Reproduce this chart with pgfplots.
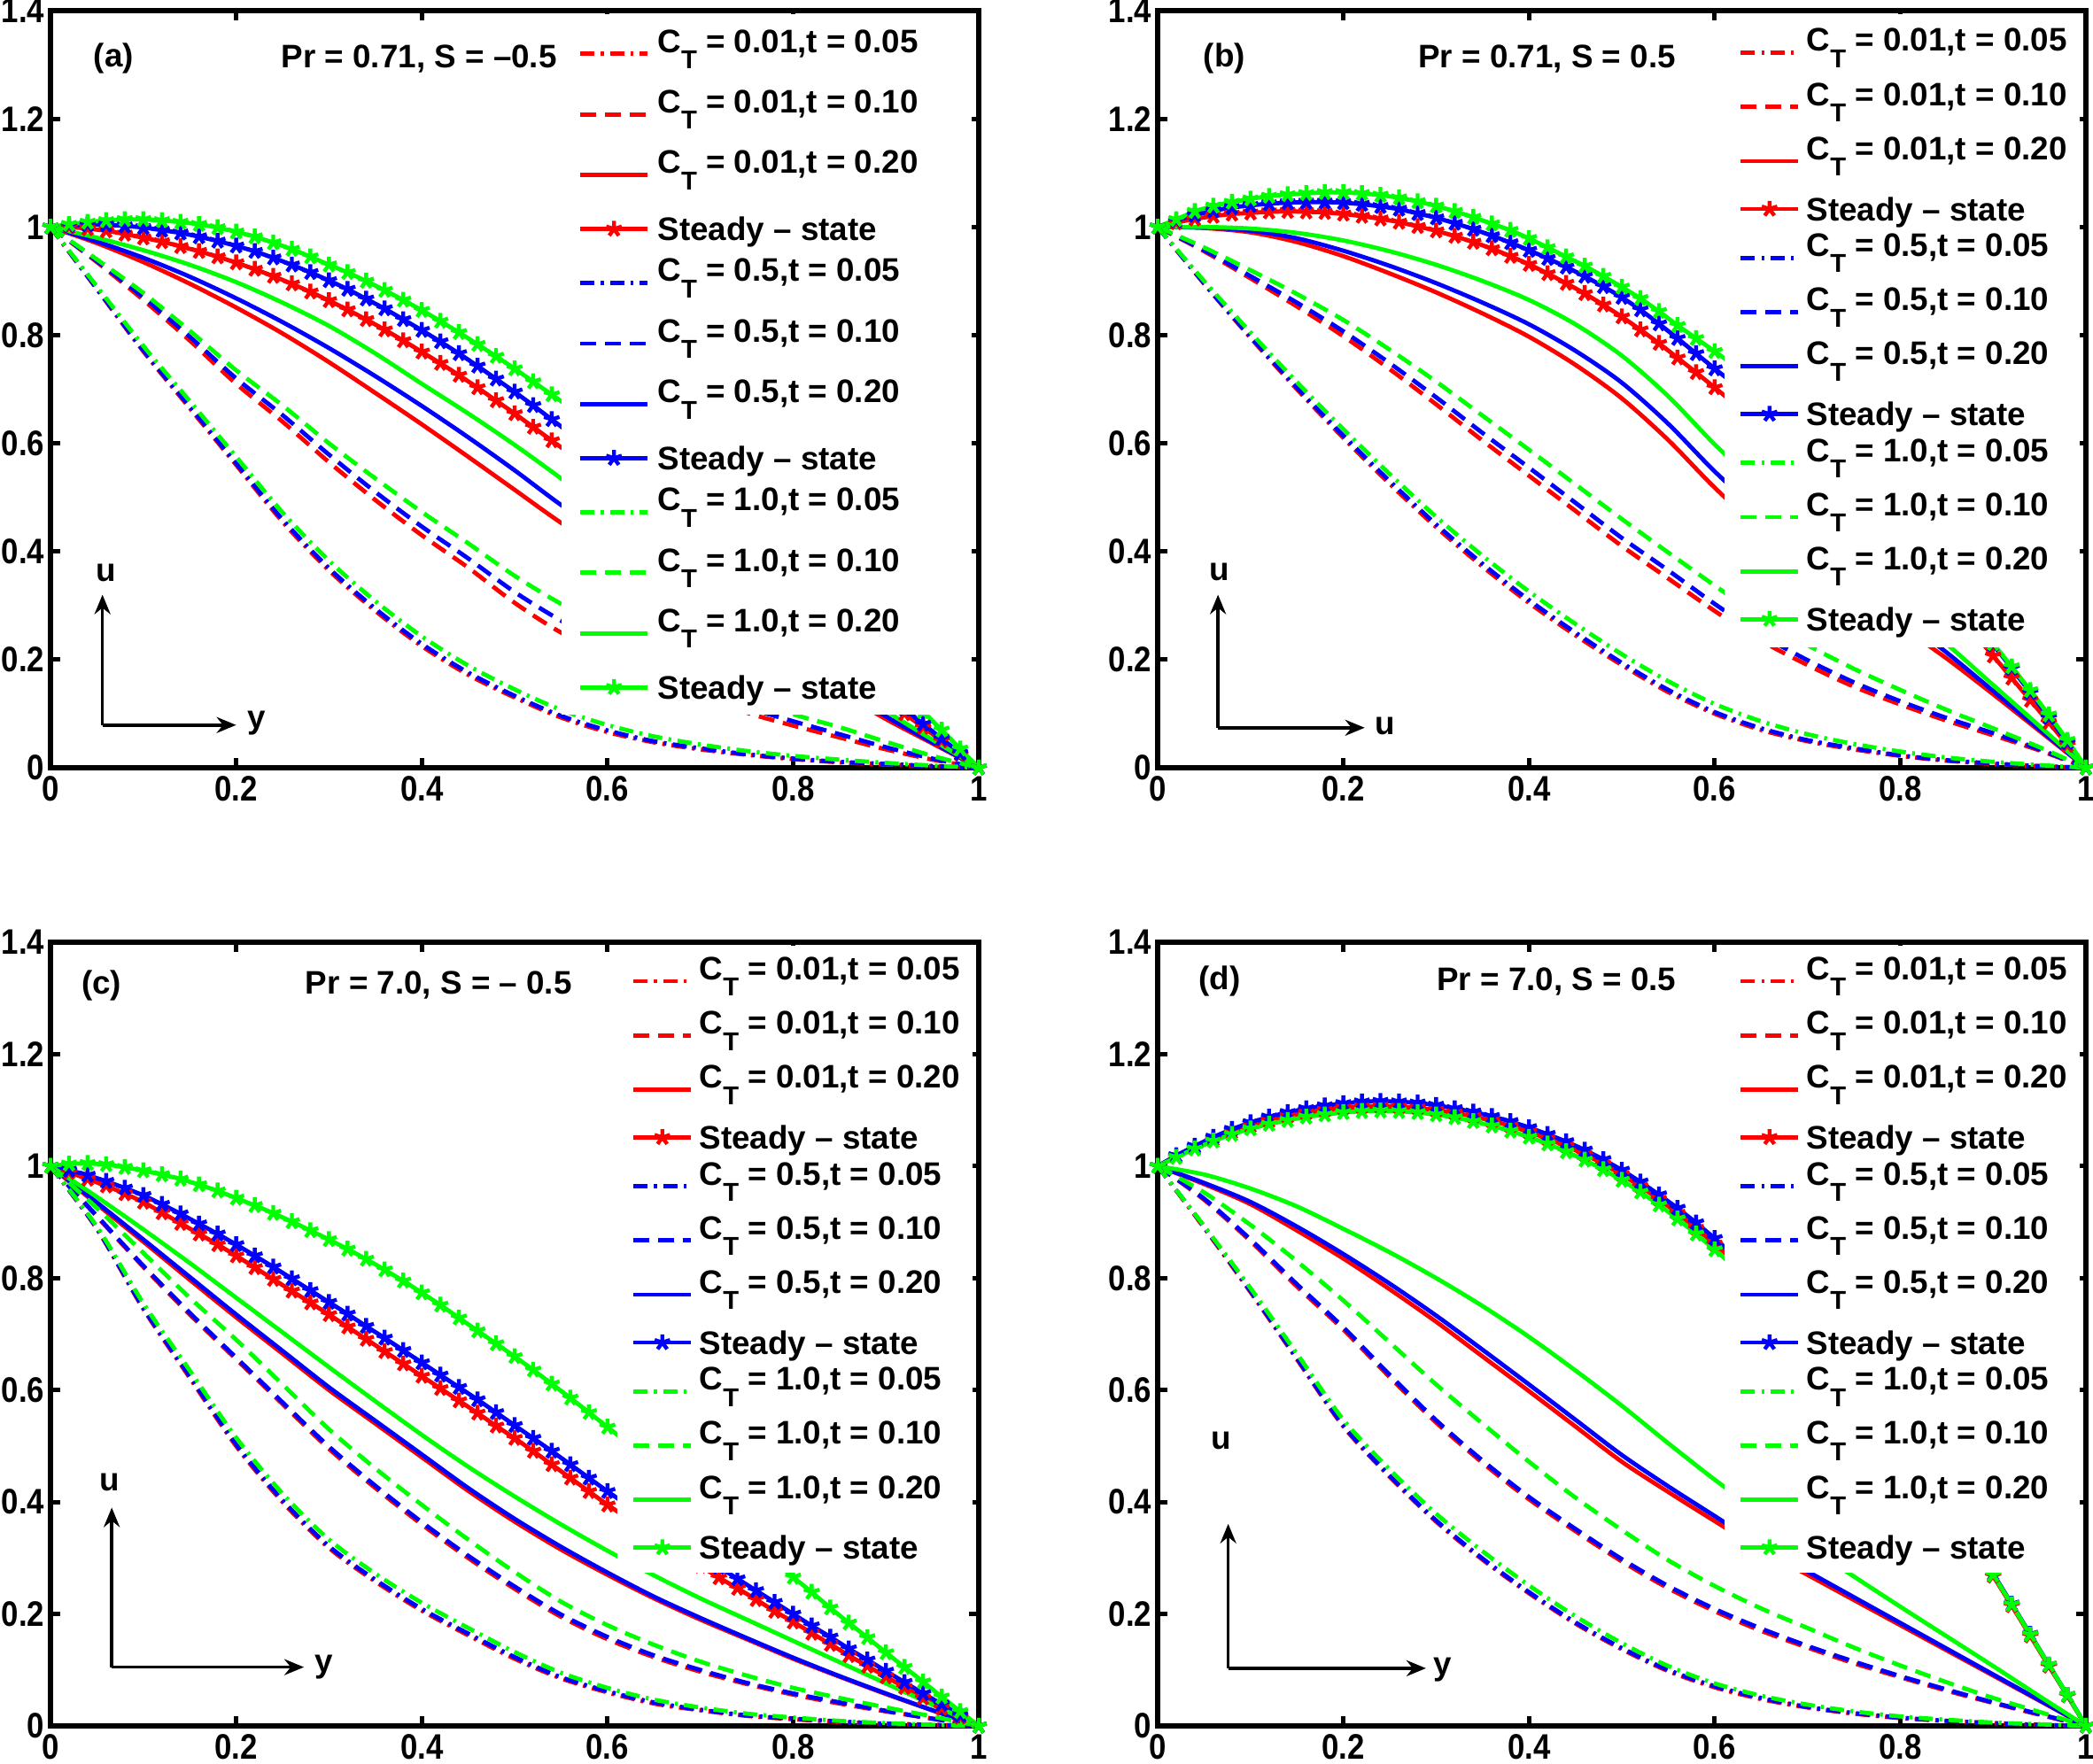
\documentclass[border=0pt]{standalone}
\usepackage{fontspec}
\setmainfont{Liberation Sans}
\newfontfamily\mytickfont[FakeStretch=0.87]{Liberation Sans}
\usepackage{pgfplots}
\usepackage{pgfplotstable}
\pgfplotsset{compat=1.18}
\usetikzlibrary{arrows.meta}
\definecolor{mred}{RGB}{255,0,0}
\definecolor{mblue}{RGB}{0,0,255}
\definecolor{mgreen}{RGB}{0,255,0}

% ---------------- panel (a) ----------------
\pgfplotstableread{
x r b g
0.00 1.000 1.000 1.000
0.02 1.000 1.003 1.005
0.04 0.997 1.004 1.009
0.06 0.993 1.004 1.012
0.08 0.987 1.002 1.014
0.10 0.980 0.999 1.014
0.12 0.973 0.994 1.012
0.14 0.964 0.989 1.009
0.16 0.955 0.982 1.005
0.18 0.945 0.974 0.999
0.20 0.934 0.965 0.991
0.22 0.922 0.955 0.982
0.24 0.909 0.943 0.971
0.26 0.895 0.930 0.959
0.28 0.880 0.916 0.945
0.30 0.864 0.901 0.930
0.32 0.847 0.885 0.916
0.34 0.829 0.867 0.900
0.36 0.810 0.849 0.883
0.38 0.790 0.829 0.865
0.40 0.769 0.809 0.846
0.42 0.748 0.788 0.826
0.44 0.726 0.766 0.805
0.46 0.703 0.743 0.783
0.48 0.679 0.719 0.761
0.50 0.655 0.695 0.738
0.52 0.630 0.670 0.714
0.54 0.605 0.644 0.690
0.56 0.580 0.618 0.666
0.58 0.555 0.591 0.641
0.60 0.529 0.564 0.615
0.62 0.503 0.537 0.588
0.64 0.477 0.509 0.561
0.66 0.451 0.481 0.533
0.68 0.424 0.453 0.505
0.70 0.397 0.424 0.476
0.72 0.370 0.396 0.447
0.74 0.343 0.367 0.418
0.76 0.315 0.338 0.388
0.78 0.288 0.308 0.358
0.80 0.260 0.279 0.328
0.82 0.233 0.250 0.297
0.84 0.206 0.222 0.266
0.86 0.179 0.193 0.235
0.88 0.153 0.165 0.203
0.90 0.126 0.137 0.171
0.92 0.100 0.109 0.138
0.94 0.075 0.081 0.104
0.96 0.050 0.054 0.070
0.98 0.025 0.027 0.035
1.00 0.000 0.000 0.000
}\SA
\pgfplotstableread{
x r05 b05 g05 r10 b10 g10 r20 b20 g20
0.00 1 1 1 1 1 1 1 1 1
0.05 0.885 0.886 0.890 0.935 0.937 0.940 0.970 0.973 0.980
0.10 0.770 0.772 0.780 0.865 0.870 0.878 0.935 0.943 0.957
0.15 0.665 0.668 0.678 0.790 0.797 0.808 0.895 0.908 0.930
0.20 0.560 0.563 0.575 0.710 0.720 0.735 0.851 0.868 0.898
0.25 0.455 0.459 0.472 0.640 0.652 0.670 0.803 0.824 0.860
0.30 0.365 0.369 0.383 0.565 0.579 0.600 0.750 0.776 0.817
0.35 0.290 0.294 0.308 0.495 0.510 0.535 0.693 0.724 0.766
0.40 0.225 0.229 0.243 0.430 0.446 0.473 0.635 0.669 0.710
0.45 0.172 0.176 0.189 0.370 0.387 0.415 0.575 0.611 0.655
0.50 0.130 0.133 0.145 0.305 0.325 0.355 0.514 0.550 0.597
0.55 0.093 0.096 0.107 0.250 0.272 0.303 0.453 0.486 0.535
0.60 0.066 0.069 0.079 0.210 0.228 0.258 0.400 0.430 0.470
0.65 0.047 0.049 0.058 0.170 0.185 0.212 0.345 0.370 0.405
0.70 0.034 0.036 0.043 0.135 0.147 0.170 0.290 0.310 0.340
0.75 0.024 0.025 0.031 0.102 0.112 0.130 0.240 0.255 0.280
0.80 0.016 0.017 0.022 0.078 0.086 0.099 0.185 0.200 0.220
0.85 0.010 0.011 0.015 0.056 0.062 0.075 0.140 0.148 0.163
0.90 0.006 0.007 0.009 0.034 0.038 0.048 0.090 0.095 0.105
0.95 0.003 0.003 0.004 0.015 0.017 0.022 0.045 0.047 0.052
1.00 0 0 0 0 0 0 0 0 0
}\TA

% ---------------- panel (b) ----------------
\pgfplotstableread{
x r b g
0.00 1.000 1.000 1.000
0.02 1.008 1.012 1.014
0.04 1.015 1.022 1.029
0.06 1.020 1.030 1.039
0.08 1.024 1.036 1.046
0.10 1.026 1.040 1.052
0.12 1.028 1.043 1.057
0.14 1.029 1.045 1.060
0.16 1.028 1.046 1.062
0.18 1.027 1.046 1.064
0.20 1.024 1.045 1.064
0.22 1.020 1.042 1.062
0.24 1.015 1.038 1.059
0.26 1.009 1.033 1.054
0.28 1.001 1.025 1.047
0.30 0.993 1.017 1.039
0.32 0.983 1.007 1.029
0.34 0.972 0.996 1.018
0.36 0.960 0.984 1.006
0.38 0.946 0.971 0.994
0.40 0.931 0.957 0.979
0.42 0.914 0.942 0.962
0.44 0.896 0.926 0.945
0.46 0.877 0.909 0.928
0.48 0.856 0.890 0.909
0.50 0.834 0.870 0.889
0.52 0.810 0.847 0.868
0.54 0.785 0.821 0.844
0.56 0.758 0.794 0.818
0.58 0.731 0.766 0.794
0.60 0.703 0.738 0.770
0.62 0.675 0.711 0.745
0.64 0.649 0.684 0.718
0.66 0.621 0.655 0.689
0.68 0.592 0.625 0.658
0.70 0.562 0.594 0.625
0.72 0.531 0.562 0.590
0.74 0.499 0.529 0.554
0.76 0.466 0.495 0.517
0.78 0.432 0.460 0.479
0.80 0.397 0.424 0.440
0.82 0.361 0.387 0.400
0.84 0.324 0.349 0.359
0.86 0.286 0.310 0.317
0.88 0.247 0.270 0.274
0.90 0.207 0.228 0.230
0.92 0.166 0.184 0.187
0.94 0.125 0.139 0.143
0.96 0.084 0.093 0.098
0.98 0.042 0.047 0.051
1.00 0.000 0.000 0.000
}\SB
\pgfplotstableread{
x r05 b05 g05 r10 b10 g10 r20 b20 g20
0.00 1 1 1 1 1 1 1 1 1
0.05 0.895 0.896 0.900 0.955 0.957 0.962 0.998 0.999 1.000
0.10 0.795 0.797 0.805 0.905 0.909 0.920 0.990 0.993 0.997
0.15 0.700 0.703 0.713 0.853 0.860 0.876 0.972 0.979 0.989
0.20 0.610 0.614 0.626 0.798 0.807 0.828 0.946 0.956 0.975
0.25 0.525 0.530 0.543 0.737 0.748 0.773 0.914 0.928 0.955
0.30 0.445 0.450 0.464 0.672 0.685 0.714 0.879 0.896 0.930
0.35 0.372 0.377 0.392 0.605 0.619 0.651 0.840 0.860 0.900
0.40 0.305 0.310 0.326 0.540 0.555 0.588 0.797 0.820 0.865
0.45 0.245 0.250 0.266 0.475 0.490 0.524 0.745 0.771 0.820
0.50 0.190 0.194 0.210 0.410 0.425 0.460 0.683 0.712 0.762
0.55 0.140 0.144 0.160 0.350 0.365 0.398 0.606 0.636 0.687
0.60 0.100 0.103 0.118 0.290 0.303 0.337 0.518 0.548 0.598
0.65 0.070 0.073 0.086 0.235 0.246 0.278 0.440 0.470 0.518
0.70 0.049 0.051 0.062 0.190 0.199 0.227 0.375 0.400 0.440
0.75 0.034 0.036 0.044 0.150 0.158 0.183 0.318 0.340 0.370
0.80 0.022 0.023 0.030 0.117 0.123 0.144 0.262 0.278 0.300
0.85 0.013 0.014 0.019 0.087 0.092 0.107 0.202 0.213 0.229
0.90 0.007 0.008 0.011 0.060 0.064 0.073 0.136 0.142 0.153
0.95 0.003 0.003 0.005 0.032 0.034 0.038 0.068 0.071 0.077
1.00 0 0 0 0 0 0 0 0 0
}\TB

% ---------------- panel (c) ----------------
\pgfplotstableread{
x r b g
0.00 1.000 1.000 1.000
0.02 0.989 0.993 1.004
0.04 0.977 0.984 1.005
0.06 0.965 0.973 1.003
0.08 0.951 0.961 0.998
0.10 0.936 0.948 0.992
0.12 0.917 0.932 0.985
0.14 0.898 0.915 0.977
0.16 0.879 0.897 0.967
0.18 0.860 0.879 0.956
0.20 0.840 0.860 0.943
0.22 0.819 0.840 0.930
0.24 0.798 0.820 0.916
0.26 0.777 0.799 0.901
0.28 0.756 0.778 0.885
0.30 0.735 0.757 0.869
0.32 0.713 0.736 0.852
0.34 0.691 0.714 0.834
0.36 0.669 0.693 0.815
0.38 0.647 0.671 0.795
0.40 0.625 0.649 0.774
0.42 0.603 0.627 0.752
0.44 0.581 0.605 0.729
0.46 0.559 0.583 0.706
0.48 0.536 0.560 0.683
0.50 0.514 0.537 0.660
0.52 0.491 0.514 0.636
0.54 0.467 0.491 0.611
0.56 0.443 0.467 0.586
0.58 0.419 0.443 0.560
0.60 0.395 0.419 0.534
0.62 0.373 0.396 0.508
0.64 0.351 0.373 0.482
0.66 0.330 0.351 0.456
0.68 0.308 0.328 0.430
0.70 0.286 0.306 0.403
0.72 0.265 0.284 0.376
0.74 0.246 0.263 0.349
0.76 0.226 0.242 0.322
0.78 0.205 0.221 0.294
0.80 0.186 0.200 0.266
0.82 0.166 0.179 0.239
0.84 0.146 0.159 0.211
0.86 0.126 0.138 0.184
0.88 0.107 0.118 0.158
0.90 0.088 0.098 0.131
0.92 0.069 0.078 0.105
0.94 0.050 0.058 0.079
0.96 0.032 0.039 0.052
0.98 0.016 0.019 0.026
1.00 0.000 0.000 0.000
}\SC
\pgfplotstableread{
x r05 b05 g05 r10 b10 g10 r20 b20 g20
0.00 1 1 1 1 1 1 1 1 1
0.05 0.888 0.889 0.892 0.910 0.911 0.925 0.932 0.935 0.945
0.10 0.745 0.747 0.755 0.820 0.822 0.845 0.865 0.869 0.887
0.15 0.622 0.625 0.635 0.735 0.738 0.765 0.797 0.802 0.827
0.20 0.500 0.503 0.515 0.655 0.658 0.690 0.730 0.735 0.765
0.25 0.400 0.403 0.415 0.575 0.578 0.610 0.665 0.670 0.703
0.30 0.318 0.321 0.333 0.495 0.499 0.530 0.600 0.605 0.641
0.35 0.258 0.261 0.272 0.425 0.429 0.460 0.540 0.545 0.580
0.40 0.206 0.209 0.220 0.360 0.364 0.395 0.480 0.485 0.520
0.45 0.162 0.165 0.175 0.300 0.304 0.333 0.420 0.425 0.463
0.50 0.120 0.123 0.132 0.245 0.249 0.275 0.365 0.370 0.410
0.55 0.085 0.087 0.095 0.195 0.199 0.222 0.315 0.320 0.360
0.60 0.060 0.062 0.068 0.155 0.159 0.180 0.270 0.274 0.313
0.65 0.040 0.042 0.047 0.123 0.126 0.145 0.228 0.231 0.269
0.70 0.028 0.029 0.033 0.097 0.100 0.115 0.190 0.193 0.228
0.75 0.018 0.019 0.022 0.075 0.077 0.090 0.155 0.157 0.190
0.80 0.012 0.013 0.015 0.056 0.058 0.068 0.120 0.122 0.152
0.85 0.007 0.008 0.009 0.040 0.042 0.050 0.088 0.089 0.114
0.90 0.004 0.004 0.005 0.026 0.027 0.033 0.057 0.058 0.076
0.95 0.002 0.002 0.002 0.013 0.013 0.017 0.028 0.028 0.038
1.00 0 0 0 0 0 0 0 0 0
}\TC

% ---------------- panel (d) ----------------
\pgfplotstableread{
x r b g
0.00 1.000 1.000 1.000
0.02 1.017 1.019 1.016
0.04 1.033 1.036 1.031
0.06 1.048 1.052 1.045
0.08 1.061 1.066 1.057
0.10 1.072 1.078 1.067
0.12 1.081 1.088 1.075
0.14 1.089 1.096 1.082
0.16 1.095 1.103 1.088
0.18 1.100 1.108 1.092
0.20 1.104 1.112 1.096
0.22 1.106 1.115 1.098
0.24 1.107 1.116 1.099
0.26 1.106 1.115 1.098
0.28 1.104 1.113 1.096
0.30 1.100 1.109 1.092
0.32 1.095 1.103 1.087
0.34 1.089 1.097 1.080
0.36 1.081 1.089 1.072
0.38 1.072 1.080 1.063
0.40 1.061 1.069 1.052
0.42 1.049 1.057 1.040
0.44 1.036 1.044 1.026
0.46 1.021 1.029 1.011
0.48 1.004 1.012 0.994
0.50 0.985 0.993 0.975
0.52 0.964 0.972 0.954
0.54 0.941 0.949 0.931
0.56 0.916 0.925 0.906
0.58 0.889 0.899 0.879
0.60 0.861 0.871 0.851
0.62 0.832 0.842 0.822
0.64 0.802 0.812 0.792
0.66 0.770 0.780 0.761
0.68 0.737 0.747 0.728
0.70 0.702 0.712 0.694
0.72 0.666 0.676 0.659
0.74 0.628 0.638 0.622
0.76 0.589 0.598 0.584
0.78 0.548 0.557 0.544
0.80 0.506 0.514 0.503
0.82 0.462 0.469 0.460
0.84 0.416 0.423 0.415
0.86 0.369 0.375 0.369
0.88 0.320 0.326 0.321
0.90 0.268 0.272 0.270
0.92 0.215 0.218 0.217
0.94 0.161 0.164 0.163
0.96 0.107 0.109 0.109
0.98 0.054 0.055 0.055
1.00 0.000 0.000 0.000
}\SD
\pgfplotstableread{
x r05 b05 g05 r10 b10 g10 r20 b20 g20
0.00 1 1 1 1 1 1 1 1 1
0.05 0.890 0.892 0.893 0.940 0.942 0.953 0.968 0.970 0.985
0.10 0.775 0.777 0.782 0.866 0.869 0.895 0.932 0.936 0.960
0.15 0.655 0.657 0.665 0.785 0.789 0.830 0.885 0.892 0.928
0.20 0.535 0.537 0.547 0.708 0.712 0.760 0.835 0.843 0.888
0.25 0.445 0.447 0.458 0.623 0.627 0.685 0.780 0.790 0.846
0.30 0.365 0.367 0.379 0.542 0.546 0.610 0.722 0.733 0.800
0.35 0.297 0.299 0.312 0.470 0.474 0.540 0.660 0.672 0.750
0.40 0.237 0.239 0.251 0.405 0.409 0.472 0.598 0.610 0.695
0.45 0.183 0.185 0.196 0.348 0.352 0.408 0.535 0.547 0.635
0.50 0.137 0.139 0.148 0.294 0.298 0.350 0.472 0.484 0.572
0.55 0.098 0.100 0.107 0.246 0.250 0.296 0.418 0.428 0.505
0.60 0.069 0.071 0.076 0.205 0.209 0.250 0.366 0.375 0.440
0.65 0.048 0.050 0.054 0.170 0.174 0.210 0.315 0.322 0.380
0.70 0.033 0.034 0.038 0.140 0.143 0.175 0.270 0.276 0.322
0.75 0.022 0.023 0.026 0.112 0.115 0.140 0.225 0.230 0.267
0.80 0.014 0.015 0.017 0.087 0.089 0.108 0.180 0.184 0.213
0.85 0.009 0.009 0.011 0.063 0.065 0.078 0.135 0.138 0.160
0.90 0.005 0.005 0.006 0.041 0.042 0.050 0.090 0.092 0.107
0.95 0.002 0.002 0.003 0.020 0.021 0.025 0.045 0.046 0.053
1.00 0 0 0 0 0 0 0 0 0
}\TD

\pgfplotsset{
  ddot/.style={line width=1.2pt, dash pattern=on 4pt off 1.8pt on 0.8pt off 1.8pt},
  dsh/.style={line width=1.2pt, dash pattern=on 4.5pt off 2.5pt},
  sld/.style={line width=1.2pt, solid},
  stdy/.style={line width=1.2pt, solid, mark=star, mark size=2.3pt, mark options={solid, line width=1.1pt}},
  ctimg/.style={legend image code/.code={\draw[##1] (0pt,-0.4pt) -- (\LL,-0.4pt); \path (\LT,0pt);}},
  stimg/.style={legend image code/.code={\draw[##1,mark repeat=2,mark phase=2] plot coordinates {(0pt,3.3pt) (\LH,3.3pt) (\LL,3.3pt)}; \path (\LT,0pt);}},
  mypanel/.style={
    scale only axis, width=262pt,
    xmin=0, xmax=1, ymin=0, ymax=1.4,
    xtick={0,0.2,0.4,0.6,0.8,1},
    ytick={0,0.2,0.4,0.6,0.8,1,1.2,1.4},
    tick align=inside,
    major tick length=2.8pt,
    every tick/.style={black, line width=1.2pt},
    axis line style={line width=1.3pt},
    tick label style={font=\mytickfont\fontsize{10}{11}\selectfont\bfseries},
    xticklabel style={inner sep=2.3pt},
    yticklabel style={inner sep=1.5pt},
    /pgf/number format/assume math mode=true,
    clip=false,
    legend style={anchor=north west, yshift=-0.7pt, fill=white, draw=none,
      row sep=0pt, nodes={inner sep=0pt, text depth=},
      cells={anchor=base west},
      font=\fontsize{9.2}{11}\selectfont\bfseries},
  },
}

\newcommand\CTe[2]{\makebox[\LW][l]{\Cstrut C\raisebox{-4.6pt}{\fontsize{7.3}{8}\selectfont T} = #1,t = #2}}
\newcommand\SSe{\makebox[\LW][l]{\Sstrut Steady -- state}}
\newcommand\annfont{\fontsize{9.2}{11}\selectfont\bfseries}

\newcommand\allplots[2]{%
\addplot[mred,ddot,smooth,ctimg] table[x=x,y=r05]{#1}; \addlegendentry{\CTe{0.01}{0.05}}
\addplot[mred,dsh,smooth,ctimg] table[x=x,y=r10]{#1}; \addlegendentry{\CTe{0.01}{0.10}}
\addplot[mred,sld,smooth,ctimg] table[x=x,y=r20]{#1}; \addlegendentry{\CTe{0.01}{0.20}}
\addplot[mred,stdy,stimg] table[x=x,y=r]{#2}; \addlegendentry{\SSe}
\addplot[mblue,ddot,smooth,ctimg] table[x=x,y=b05]{#1}; \addlegendentry{\CTe{0.5}{0.05}}
\addplot[mblue,dsh,smooth,ctimg] table[x=x,y=b10]{#1}; \addlegendentry{\CTe{0.5}{0.10}}
\addplot[mblue,sld,smooth,ctimg] table[x=x,y=b20]{#1}; \addlegendentry{\CTe{0.5}{0.20}}
\addplot[mblue,stdy,stimg] table[x=x,y=b]{#2}; \addlegendentry{\SSe}
\addplot[mgreen,ddot,smooth,ctimg] table[x=x,y=g05]{#1}; \addlegendentry{\CTe{1.0}{0.05}}
\addplot[mgreen,dsh,smooth,ctimg] table[x=x,y=g10]{#1}; \addlegendentry{\CTe{1.0}{0.10}}
\addplot[mgreen,sld,smooth,ctimg] table[x=x,y=g20]{#1}; \addlegendentry{\CTe{1.0}{0.20}}
\addplot[mgreen,stdy,stimg] table[x=x,y=g]{#2}; \addlegendentry{\SSe}
}

\tikzset{myarrow/.style={line width=0.9pt, -{Stealth[length=5.5pt,width=4.5pt]}},
  ann/.style={font=\annfont, inner sep=0pt}}

\begin{document}
\begin{tikzpicture}
\path[use as bounding box] (0,0) rectangle (590.75pt,497.75pt);

% ---------- (a) ----------
\def\LL{19pt}\def\LH{9.5pt}\def\LT{21.25pt}\def\LW{84pt}
\def\Cstrut{\rule[-8.1pt]{0pt}{17.1pt}}\def\Sstrut{\rule[-2.55pt]{0pt}{13.4pt}}
\begin{axis}[mypanel, height=213.75pt, at={(14.25pt,281pt)}, anchor=south west,
  legend style={at={(0.55,1)}, inner xsep=4.65pt, inner ysep=1.9pt}]
\allplots{\TA}{\SA}
\node[ann] at (axis cs:0.068,1.311) {(a)};
\node[ann, anchor=west] at (axis cs:0.248,1.311) {Pr = 0.71, S = –0.5};
\draw[myarrow] (axis cs:0.056,0.079) -- (axis cs:0.056,0.32);
\draw[myarrow] (axis cs:0.056,0.079) -- (axis cs:0.2,0.079);
\node[ann] at (axis cs:0.06,0.36) {u};
\node[ann] at (axis cs:0.222,0.082) {y};
\end{axis}

% ---------- (b) ----------
\def\LL{16.25pt}\def\LH{8.125pt}\def\LT{18pt}\def\LW{73.1pt}
\def\Cstrut{\rule[-7.3pt]{0pt}{15.3pt}}\def\Sstrut{\rule[-2.1pt]{0pt}{12pt}}
\begin{axis}[mypanel, height=213.75pt, at={(326.75pt,281pt)}, anchor=south west,
  legend style={at={(0.61,1)}, inner xsep=3.95pt, inner ysep=2.6pt}]
\allplots{\TB}{\SB}
\node[ann] at (axis cs:0.072,1.311) {(b)};
\node[ann, anchor=west] at (axis cs:0.28,1.311) {Pr = 0.71, S = 0.5};
\draw[myarrow] (axis cs:0.065,0.074) -- (axis cs:0.065,0.32);
\draw[myarrow] (axis cs:0.065,0.074) -- (axis cs:0.223,0.074);
\node[ann] at (axis cs:0.067,0.362) {u};
\node[ann] at (axis cs:0.245,0.077) {u};
\end{axis}

% ---------- (c) ----------
\begin{axis}[mypanel, height=221.25pt, at={(14.25pt,10.5pt)}, anchor=south west,
  legend style={at={(0.61,1)}, inner xsep=3.95pt, inner ysep=1.7pt}]
\allplots{\TC}{\SC}
\node[ann] at (axis cs:0.055,1.323) {(c)};
\node[ann, anchor=west] at (axis cs:0.274,1.323) {Pr = 7.0, S = – 0.5};
\draw[myarrow] (axis cs:0.066,0.105) -- (axis cs:0.066,0.39);
\draw[myarrow] (axis cs:0.066,0.105) -- (axis cs:0.273,0.105);
\node[ann] at (axis cs:0.064,0.435) {u};
\node[ann] at (axis cs:0.295,0.105) {y};
\end{axis}

% ---------- (d) ----------
\begin{axis}[mypanel, height=221.25pt, at={(326.75pt,10.5pt)}, anchor=south west,
  legend style={at={(0.61,1)}, inner xsep=3.95pt, inner ysep=1.7pt}]
\allplots{\TD}{\SD}
\node[ann] at (axis cs:0.067,1.33) {(d)};
\node[ann, anchor=west] at (axis cs:0.30,1.33) {Pr = 7.0, S = 0.5};
\draw[myarrow] (axis cs:0.076,0.103) -- (axis cs:0.076,0.361);
\draw[myarrow] (axis cs:0.076,0.103) -- (axis cs:0.289,0.103);
\node[ann] at (axis cs:0.068,0.51) {u};
\node[ann] at (axis cs:0.307,0.1) {y};
\end{axis}
\end{tikzpicture}
\end{document}
